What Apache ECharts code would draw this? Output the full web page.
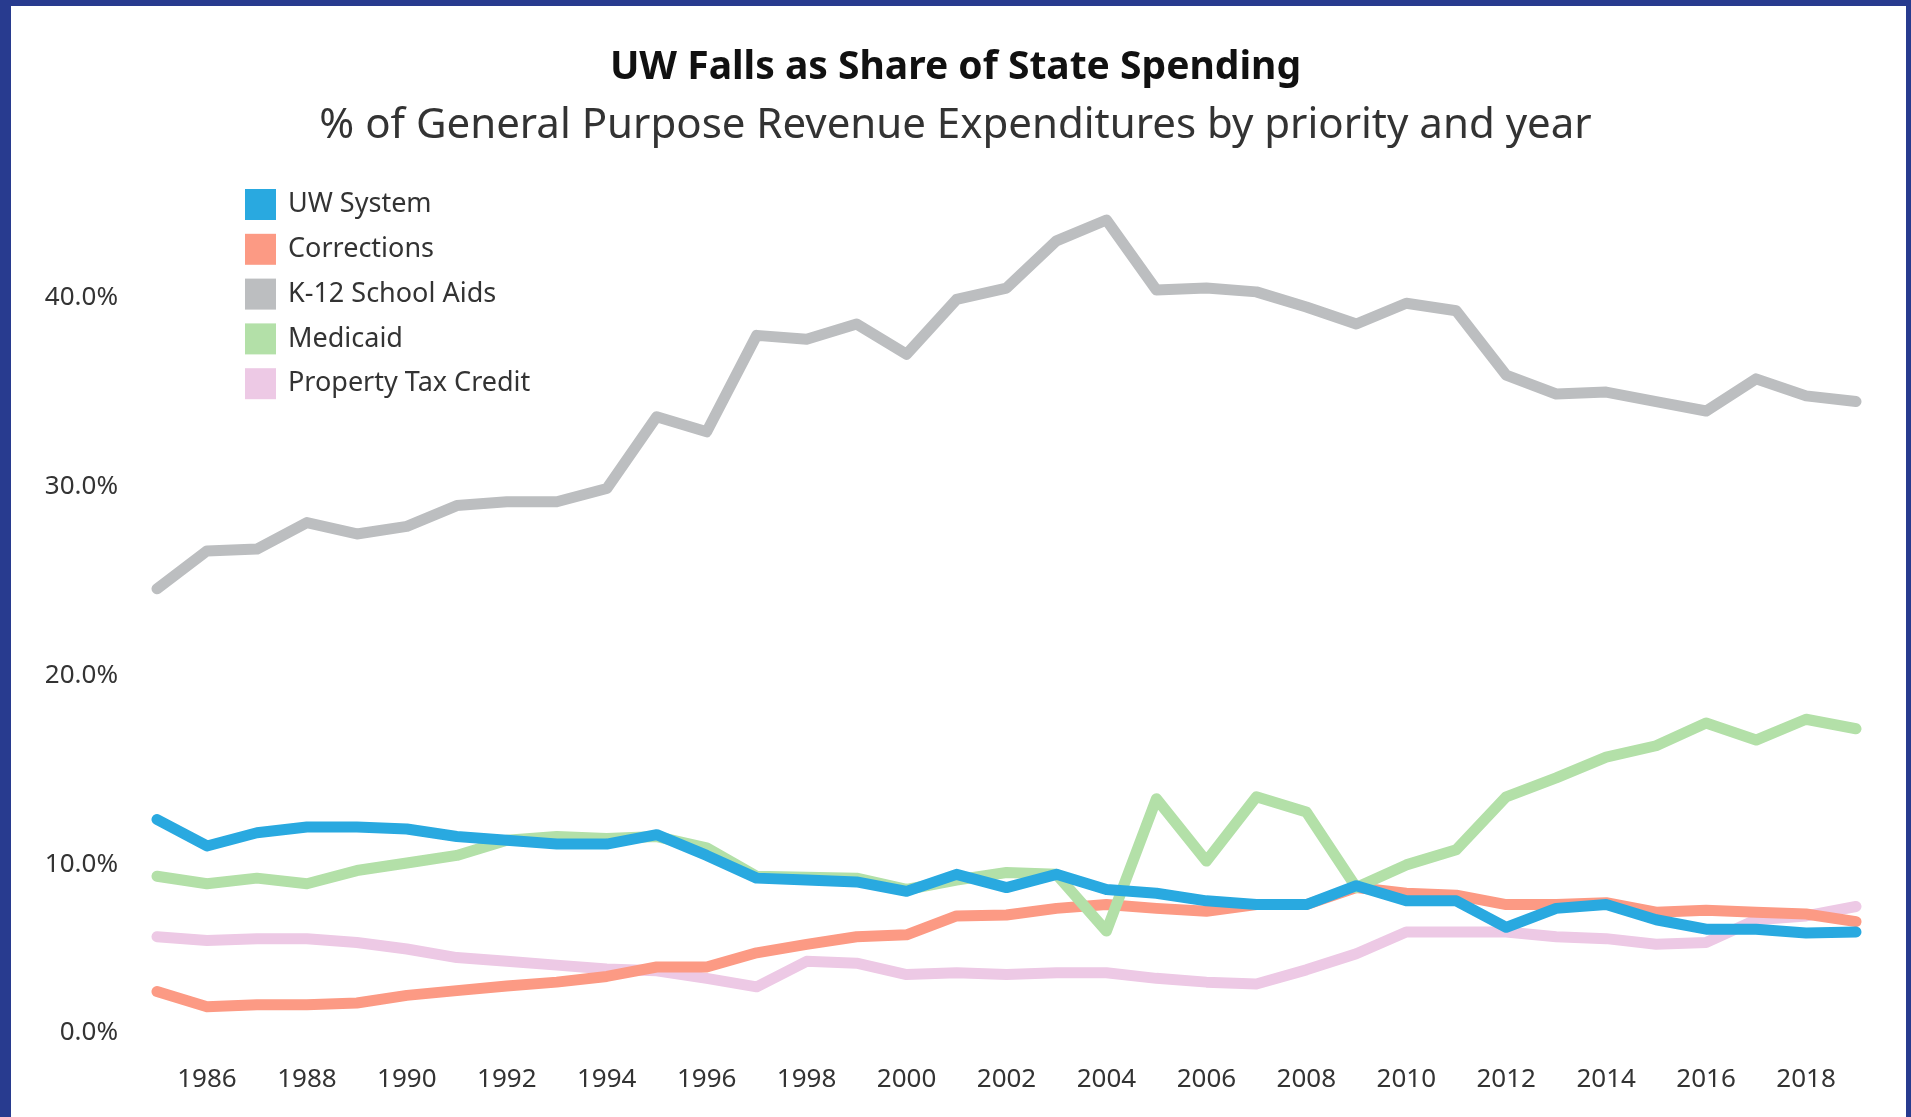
<!DOCTYPE html>
<html>
<head>
<meta charset="utf-8">
<script src="https://cdn.jsdelivr.net/npm/echarts@6/dist/echarts.min.js"></script>
<style>
html,body{margin:0;padding:0;background:#fff;}
#chart{width:1911px;height:1117px;}
</style>
</head>
<body>
<div id="chart"></div>
<script>
const years = [1985,1986,1987,1988,1989,1990,1991,1992,1993,1994,1995,1996,1997,1998,1999,2000,2001,2002,2003,2004,2005,2006,2007,2008,2009,2010,2011,2012,2013,2014,2015,2016,2017,2018,2019];
const uwSystem = [12.4,11.0,11.7,12.0,12.0,11.9,11.5,11.3,11.1,11.1,11.6,10.5,9.3,9.2,9.1,8.6,9.5,8.8,9.5,8.7,8.5,8.1,7.9,7.9,8.9,8.1,8.1,6.7,7.7,7.9,7.1,6.6,6.6,6.4,6.45];
const corrections = [3.3,2.5,2.6,2.6,2.7,3.1,3.35,3.6,3.8,4.1,4.6,4.6,5.35,5.8,6.2,6.3,7.3,7.35,7.7,7.9,7.7,7.55,7.9,7.9,8.8,8.5,8.4,7.9,7.9,8.0,7.5,7.6,7.5,7.4,7.0];
const k12 = [24.6,26.6,26.7,28.1,27.5,27.9,29.0,29.2,29.2,29.9,33.7,32.9,38.0,37.8,38.6,37.0,39.9,40.5,43.0,44.1,40.4,40.5,40.3,39.5,38.6,39.7,39.3,35.9,34.9,35.0,34.5,34.0,35.7,34.8,34.5];
const medicaid = [9.4,9.0,9.3,9.0,9.7,10.1,10.5,11.3,11.5,11.4,11.5,10.9,9.4,9.35,9.3,8.7,9.2,9.6,9.5,6.5,13.5,10.2,13.6,12.8,8.8,10.0,10.8,13.6,14.6,15.7,16.3,17.5,16.6,17.7,17.2];
const propertyTaxCredit = [6.2,6.0,6.1,6.1,5.9,5.55,5.1,4.9,4.7,4.5,4.4,4.0,3.55,4.9,4.8,4.2,4.3,4.2,4.3,4.3,4.0,3.8,3.7,4.45,5.3,6.45,6.45,6.45,6.2,6.1,5.8,5.9,7.1,7.3,7.8];
const yTicks = [0,10,20,30,40];

const FONT = '"Noto Sans", "Open Sans", sans-serif';
const BORDER = '#283b8f';

const chart = echarts.init(document.getElementById('chart'), null, {renderer:'canvas'});

function mk(name, data, color, z){
  return {
    name: name, type: 'line', data: data, symbol: 'none', z: z,
    lineStyle: {width: 11, color: color, cap: 'round', join: 'round'},
    itemStyle: {color: color},
    emphasis: {disabled: true}
  };
}

const option = {
  backgroundColor: '#ffffff',
  animation: false,
  textStyle: {fontFamily: FONT},
  title: [
    {text: 'UW Falls as Share of State Spending', left: 'center', top: 43,
     textStyle: {fontFamily: FONT, fontSize: 39, fontWeight: 'bold', color: '#111'}},
    {text: '% of General Purpose Revenue Expenditures by priority and year', left: 'center', top: 100,
     textStyle: {fontFamily: FONT, fontSize: 42, fontWeight: 'normal', color: '#333'}}
  ],
  legend: {
    orient: 'vertical', left: 245, top: 189, padding: 0,
    itemWidth: 31, itemHeight: 31, itemGap: 13.8, icon: 'rect',
    textStyle: {fontFamily: FONT, fontSize: 27, color: '#333', padding: [0,0,0,7]},
    data: ['UW System','Corrections','K-12 School Aids','Medicaid','Property Tax Credit'],
    selectedMode: false
  },
  grid: {left: 157, right: 55, top: 203, bottom: 63},
  xAxis: {
    type: 'category', data: years, boundaryGap: false,
    axisLine: {show: false}, axisTick: {show: false}, splitLine: {show: false},
    axisLabel: {
      interval: function(i, v){ return Number(v) % 2 === 0; },
      fontFamily: FONT, fontSize: 26, color: '#333', margin: 13
    }
  },
  yAxis: {
    type: 'value', min: 0, max: 45, interval: 10,
    axisLine: {show: false}, axisTick: {show: false}, splitLine: {show: false},
    axisLabel: {
      showMaxLabel: false,
      fontFamily: FONT, fontSize: 26, color: '#333', margin: 39,
      formatter: function(v){
        if (yTicks.indexOf(v) < 0) return '';
        if (v === 0) return '{z|0.0%}';
        return v.toFixed(1) + '%';
      },
      rich: {z: {fontFamily: FONT, fontSize: 26, color: '#333', padding: [0,0,42,0]}}
    }
  },
  series: [
    mk('Property Tax Credit', propertyTaxCredit, '#edc9e5', 1),
    mk('Corrections', corrections, '#fc9a84', 2),
    mk('K-12 School Aids', k12, '#bcbec0', 3),
    mk('Medicaid', medicaid, '#b3e0a8', 4),
    mk('UW System', uwSystem, '#29a9e0', 5)
  ],
  graphic: [
    {type: 'rect', left: 0, top: 0, shape: {width: 11, height: 1117}, style: {fill: BORDER}, z: 100},
    {type: 'rect', left: 0, top: 0, shape: {width: 1911, height: 6}, style: {fill: BORDER}, z: 100},
    {type: 'rect', left: 1906, top: 0, shape: {width: 5, height: 1117}, style: {fill: BORDER}, z: 100}
  ]
};
chart.setOption(option);
</script>
</body>
</html>
